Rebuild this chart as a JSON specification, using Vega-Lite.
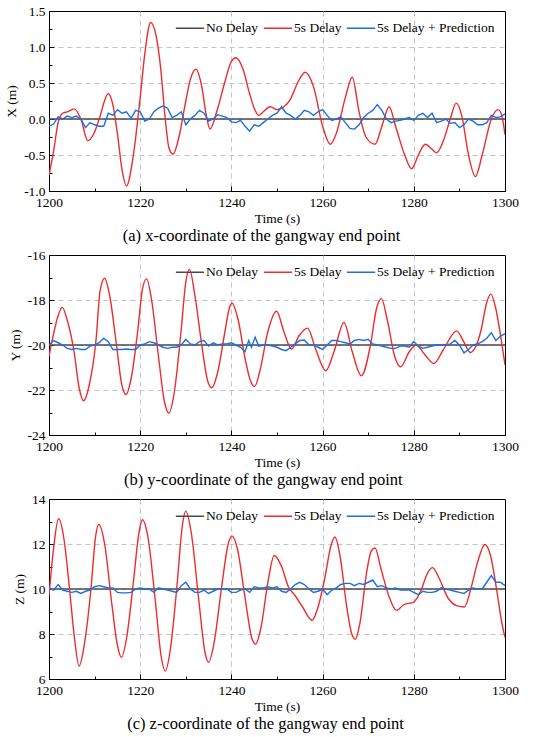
{
  "$schema": "https://vega.github.io/schema/vega-lite/v6.json",
  "padding": {"top": 3, "left": 4, "right": 10, "bottom": 2},
  "spacing": 2,
  "resolve": {"scale": {"color": "independent"}, "legend": {"color": "independent"}},
  "datasets": {
    "p1": [
      {"t": 1200, "v": 0, "s": "No Delay"}, {"t": 1300, "v": 0, "s": "No Delay"},
      {"t": 1200, "v": -0.78, "s": "5s Delay"}, {"t": 1201, "v": -0.45, "s": "5s Delay"}, {"t": 1202, "v": -0.05, "s": "5s Delay"},
      {"t": 1203, "v": 0.08, "s": "5s Delay"}, {"t": 1204, "v": 0.1, "s": "5s Delay"}, {"t": 1205.5, "v": 0.14, "s": "5s Delay"},
      {"t": 1207, "v": 0.0, "s": "5s Delay"}, {"t": 1208.5, "v": -0.3, "s": "5s Delay"}, {"t": 1210, "v": -0.18, "s": "5s Delay"},
      {"t": 1211, "v": 0.0, "s": "5s Delay"}, {"t": 1213, "v": 0.35, "s": "5s Delay"}, {"t": 1214, "v": 0.2, "s": "5s Delay"},
      {"t": 1215, "v": -0.2, "s": "5s Delay"}, {"t": 1216, "v": -0.7, "s": "5s Delay"}, {"t": 1217, "v": -0.93, "s": "5s Delay"},
      {"t": 1218.5, "v": -0.5, "s": "5s Delay"}, {"t": 1220, "v": 0.3, "s": "5s Delay"}, {"t": 1221, "v": 0.9, "s": "5s Delay"},
      {"t": 1222.3, "v": 1.34, "s": "5s Delay"}, {"t": 1223.5, "v": 1.15, "s": "5s Delay"}, {"t": 1224.5, "v": 0.7, "s": "5s Delay"},
      {"t": 1225.5, "v": 0.0, "s": "5s Delay"}, {"t": 1226.3, "v": -0.4, "s": "5s Delay"}, {"t": 1227.2, "v": -0.49, "s": "5s Delay"},
      {"t": 1228.5, "v": -0.25, "s": "5s Delay"}, {"t": 1230, "v": 0.25, "s": "5s Delay"}, {"t": 1231, "v": 0.55, "s": "5s Delay"},
      {"t": 1232.2, "v": 0.69, "s": "5s Delay"}, {"t": 1233.5, "v": 0.45, "s": "5s Delay"}, {"t": 1234.5, "v": 0.05, "s": "5s Delay"},
      {"t": 1235.3, "v": -0.14, "s": "5s Delay"}, {"t": 1237, "v": 0.15, "s": "5s Delay"}, {"t": 1238.5, "v": 0.5, "s": "5s Delay"},
      {"t": 1240, "v": 0.8, "s": "5s Delay"}, {"t": 1241, "v": 0.85, "s": "5s Delay"}, {"t": 1242.5, "v": 0.7, "s": "5s Delay"},
      {"t": 1244, "v": 0.35, "s": "5s Delay"}, {"t": 1245, "v": 0.15, "s": "5s Delay"}, {"t": 1246, "v": 0.05, "s": "5s Delay"},
      {"t": 1247, "v": 0.1, "s": "5s Delay"}, {"t": 1248.5, "v": 0.17, "s": "5s Delay"}, {"t": 1250, "v": 0.13, "s": "5s Delay"},
      {"t": 1251.5, "v": 0.17, "s": "5s Delay"}, {"t": 1253, "v": 0.28, "s": "5s Delay"}, {"t": 1254.5, "v": 0.5, "s": "5s Delay"},
      {"t": 1256.2, "v": 0.65, "s": "5s Delay"}, {"t": 1258, "v": 0.45, "s": "5s Delay"}, {"t": 1260, "v": -0.1, "s": "5s Delay"},
      {"t": 1261.7, "v": -0.35, "s": "5s Delay"}, {"t": 1263, "v": -0.2, "s": "5s Delay"}, {"t": 1265, "v": 0.3, "s": "5s Delay"},
      {"t": 1266.5, "v": 0.58, "s": "5s Delay"}, {"t": 1268, "v": 0.1, "s": "5s Delay"}, {"t": 1269.5, "v": -0.25, "s": "5s Delay"},
      {"t": 1271.5, "v": -0.35, "s": "5s Delay"}, {"t": 1273, "v": -0.1, "s": "5s Delay"}, {"t": 1274.6, "v": 0.17, "s": "5s Delay"},
      {"t": 1276, "v": -0.1, "s": "5s Delay"}, {"t": 1278, "v": -0.5, "s": "5s Delay"}, {"t": 1279.5, "v": -0.69, "s": "5s Delay"},
      {"t": 1281, "v": -0.5, "s": "5s Delay"}, {"t": 1282.5, "v": -0.35, "s": "5s Delay"}, {"t": 1284, "v": -0.42, "s": "5s Delay"},
      {"t": 1285, "v": -0.47, "s": "5s Delay"}, {"t": 1286.5, "v": -0.3, "s": "5s Delay"}, {"t": 1288, "v": 0.0, "s": "5s Delay"},
      {"t": 1289.3, "v": 0.22, "s": "5s Delay"}, {"t": 1290.5, "v": 0.05, "s": "5s Delay"}, {"t": 1292, "v": -0.5, "s": "5s Delay"},
      {"t": 1293.5, "v": -0.8, "s": "5s Delay"}, {"t": 1295, "v": -0.5, "s": "5s Delay"}, {"t": 1297, "v": 0.0, "s": "5s Delay"},
      {"t": 1298.5, "v": 0.13, "s": "5s Delay"}, {"t": 1299.3, "v": 0.05, "s": "5s Delay"}, {"t": 1300, "v": -0.22, "s": "5s Delay"},
      {"t": 1200, "v": -0.1, "s": "5s Delay + Prediction"}, {"t": 1201, "v": -0.07, "s": "5s Delay + Prediction"}, {"t": 1202, "v": 0.03, "s": "5s Delay + Prediction"},
      {"t": 1203, "v": 0.0, "s": "5s Delay + Prediction"}, {"t": 1204, "v": 0.04, "s": "5s Delay + Prediction"}, {"t": 1205, "v": 0.02, "s": "5s Delay + Prediction"},
      {"t": 1206, "v": 0.04, "s": "5s Delay + Prediction"}, {"t": 1207, "v": 0.0, "s": "5s Delay + Prediction"}, {"t": 1208, "v": -0.12, "s": "5s Delay + Prediction"},
      {"t": 1209, "v": -0.05, "s": "5s Delay + Prediction"}, {"t": 1210, "v": -0.08, "s": "5s Delay + Prediction"}, {"t": 1211, "v": -0.1, "s": "5s Delay + Prediction"},
      {"t": 1212, "v": -0.1, "s": "5s Delay + Prediction"}, {"t": 1213, "v": 0.08, "s": "5s Delay + Prediction"}, {"t": 1214, "v": 0.05, "s": "5s Delay + Prediction"},
      {"t": 1215, "v": 0.13, "s": "5s Delay + Prediction"}, {"t": 1216, "v": 0.08, "s": "5s Delay + Prediction"}, {"t": 1217, "v": 0.1, "s": "5s Delay + Prediction"},
      {"t": 1218, "v": 0.01, "s": "5s Delay + Prediction"}, {"t": 1219, "v": 0.12, "s": "5s Delay + Prediction"}, {"t": 1220, "v": 0.1, "s": "5s Delay + Prediction"},
      {"t": 1221, "v": -0.03, "s": "5s Delay + Prediction"}, {"t": 1222, "v": 0.0, "s": "5s Delay + Prediction"}, {"t": 1223, "v": 0.1, "s": "5s Delay + Prediction"},
      {"t": 1224, "v": 0.15, "s": "5s Delay + Prediction"}, {"t": 1225, "v": 0.18, "s": "5s Delay + Prediction"}, {"t": 1226, "v": 0.15, "s": "5s Delay + Prediction"},
      {"t": 1227, "v": 0.02, "s": "5s Delay + Prediction"}, {"t": 1228, "v": 0.05, "s": "5s Delay + Prediction"}, {"t": 1229, "v": 0.1, "s": "5s Delay + Prediction"},
      {"t": 1230, "v": -0.08, "s": "5s Delay + Prediction"}, {"t": 1231, "v": 0.0, "s": "5s Delay + Prediction"}, {"t": 1232, "v": 0.05, "s": "5s Delay + Prediction"},
      {"t": 1233, "v": 0.12, "s": "5s Delay + Prediction"}, {"t": 1234, "v": 0.08, "s": "5s Delay + Prediction"}, {"t": 1235, "v": -0.03, "s": "5s Delay + Prediction"},
      {"t": 1236, "v": 0.0, "s": "5s Delay + Prediction"}, {"t": 1237, "v": 0.06, "s": "5s Delay + Prediction"}, {"t": 1238, "v": 0.04, "s": "5s Delay + Prediction"},
      {"t": 1239, "v": 0.02, "s": "5s Delay + Prediction"}, {"t": 1240, "v": -0.04, "s": "5s Delay + Prediction"}, {"t": 1241, "v": -0.05, "s": "5s Delay + Prediction"},
      {"t": 1242, "v": -0.02, "s": "5s Delay + Prediction"}, {"t": 1243, "v": -0.1, "s": "5s Delay + Prediction"}, {"t": 1244, "v": -0.17, "s": "5s Delay + Prediction"},
      {"t": 1245, "v": -0.08, "s": "5s Delay + Prediction"}, {"t": 1246, "v": -0.1, "s": "5s Delay + Prediction"}, {"t": 1247, "v": -0.05, "s": "5s Delay + Prediction"},
      {"t": 1248, "v": 0.0, "s": "5s Delay + Prediction"}, {"t": 1249, "v": 0.05, "s": "5s Delay + Prediction"}, {"t": 1250, "v": 0.08, "s": "5s Delay + Prediction"},
      {"t": 1251, "v": 0.17, "s": "5s Delay + Prediction"}, {"t": 1252, "v": 0.08, "s": "5s Delay + Prediction"}, {"t": 1253, "v": 0.05, "s": "5s Delay + Prediction"},
      {"t": 1254, "v": 0.0, "s": "5s Delay + Prediction"}, {"t": 1255, "v": 0.05, "s": "5s Delay + Prediction"}, {"t": 1256, "v": 0.12, "s": "5s Delay + Prediction"},
      {"t": 1257, "v": 0.1, "s": "5s Delay + Prediction"}, {"t": 1258, "v": 0.05, "s": "5s Delay + Prediction"}, {"t": 1259, "v": 0.1, "s": "5s Delay + Prediction"},
      {"t": 1260, "v": 0.13, "s": "5s Delay + Prediction"}, {"t": 1261, "v": 0.05, "s": "5s Delay + Prediction"}, {"t": 1262, "v": -0.02, "s": "5s Delay + Prediction"},
      {"t": 1263, "v": 0.0, "s": "5s Delay + Prediction"}, {"t": 1264, "v": 0.03, "s": "5s Delay + Prediction"}, {"t": 1265, "v": -0.05, "s": "5s Delay + Prediction"},
      {"t": 1266, "v": -0.13, "s": "5s Delay + Prediction"}, {"t": 1267, "v": -0.14, "s": "5s Delay + Prediction"}, {"t": 1268, "v": -0.08, "s": "5s Delay + Prediction"},
      {"t": 1269, "v": 0.02, "s": "5s Delay + Prediction"}, {"t": 1270, "v": 0.08, "s": "5s Delay + Prediction"}, {"t": 1271, "v": 0.12, "s": "5s Delay + Prediction"},
      {"t": 1272, "v": 0.2, "s": "5s Delay + Prediction"}, {"t": 1273, "v": 0.12, "s": "5s Delay + Prediction"}, {"t": 1274, "v": 0.0, "s": "5s Delay + Prediction"},
      {"t": 1275, "v": -0.05, "s": "5s Delay + Prediction"}, {"t": 1276, "v": -0.03, "s": "5s Delay + Prediction"}, {"t": 1277, "v": -0.02, "s": "5s Delay + Prediction"},
      {"t": 1278, "v": 0.0, "s": "5s Delay + Prediction"}, {"t": 1279, "v": 0.02, "s": "5s Delay + Prediction"}, {"t": 1280, "v": -0.02, "s": "5s Delay + Prediction"},
      {"t": 1281, "v": 0.05, "s": "5s Delay + Prediction"}, {"t": 1282, "v": 0.08, "s": "5s Delay + Prediction"}, {"t": 1283, "v": 0.02, "s": "5s Delay + Prediction"},
      {"t": 1284, "v": 0.08, "s": "5s Delay + Prediction"}, {"t": 1285, "v": -0.05, "s": "5s Delay + Prediction"}, {"t": 1286, "v": -0.03, "s": "5s Delay + Prediction"},
      {"t": 1287, "v": 0.0, "s": "5s Delay + Prediction"}, {"t": 1288, "v": -0.06, "s": "5s Delay + Prediction"}, {"t": 1289, "v": -0.05, "s": "5s Delay + Prediction"},
      {"t": 1290, "v": -0.12, "s": "5s Delay + Prediction"}, {"t": 1291, "v": -0.08, "s": "5s Delay + Prediction"}, {"t": 1292, "v": 0.0, "s": "5s Delay + Prediction"},
      {"t": 1293, "v": -0.03, "s": "5s Delay + Prediction"}, {"t": 1294, "v": -0.08, "s": "5s Delay + Prediction"}, {"t": 1295, "v": -0.08, "s": "5s Delay + Prediction"},
      {"t": 1296, "v": -0.05, "s": "5s Delay + Prediction"}, {"t": 1297, "v": 0.05, "s": "5s Delay + Prediction"}, {"t": 1298, "v": 0.02, "s": "5s Delay + Prediction"},
      {"t": 1299, "v": 0.03, "s": "5s Delay + Prediction"}, {"t": 1300, "v": 0.07, "s": "5s Delay + Prediction"}
    ],
    "p2": [
      {"t": 1200, "v": -20, "s": "No Delay"}, {"t": 1300, "v": -20, "s": "No Delay"},
      {"t": 1200, "v": -20.5, "s": "5s Delay"}, {"t": 1201, "v": -19.5, "s": "5s Delay"}, {"t": 1202, "v": -18.7, "s": "5s Delay"},
      {"t": 1202.9, "v": -18.33, "s": "5s Delay"}, {"t": 1204, "v": -18.9, "s": "5s Delay"}, {"t": 1205.5, "v": -20.3, "s": "5s Delay"},
      {"t": 1206.6, "v": -21.9, "s": "5s Delay"}, {"t": 1207.6, "v": -22.48, "s": "5s Delay"}, {"t": 1208.8, "v": -21.8, "s": "5s Delay"},
      {"t": 1210.3, "v": -19.8, "s": "5s Delay"}, {"t": 1211.2, "v": -17.6, "s": "5s Delay"}, {"t": 1212.2, "v": -17.03, "s": "5s Delay"},
      {"t": 1213.3, "v": -17.8, "s": "5s Delay"}, {"t": 1214.8, "v": -20.0, "s": "5s Delay"}, {"t": 1215.9, "v": -21.7, "s": "5s Delay"},
      {"t": 1216.9, "v": -22.2, "s": "5s Delay"}, {"t": 1218, "v": -21.5, "s": "5s Delay"}, {"t": 1219.5, "v": -19.3, "s": "5s Delay"},
      {"t": 1220.5, "v": -17.5, "s": "5s Delay"}, {"t": 1221.4, "v": -17.06, "s": "5s Delay"}, {"t": 1222.5, "v": -18.0, "s": "5s Delay"},
      {"t": 1224, "v": -20.5, "s": "5s Delay"}, {"t": 1225.3, "v": -22.5, "s": "5s Delay"}, {"t": 1226.3, "v": -23.03, "s": "5s Delay"},
      {"t": 1227.4, "v": -22.2, "s": "5s Delay"}, {"t": 1229, "v": -19.3, "s": "5s Delay"}, {"t": 1230, "v": -17.2, "s": "5s Delay"},
      {"t": 1230.8, "v": -16.64, "s": "5s Delay"}, {"t": 1232, "v": -17.8, "s": "5s Delay"}, {"t": 1233.5, "v": -20.0, "s": "5s Delay"},
      {"t": 1234.8, "v": -21.6, "s": "5s Delay"}, {"t": 1235.7, "v": -21.9, "s": "5s Delay"}, {"t": 1237, "v": -21.2, "s": "5s Delay"},
      {"t": 1238.5, "v": -19.5, "s": "5s Delay"}, {"t": 1239.5, "v": -18.4, "s": "5s Delay"}, {"t": 1240.1, "v": -18.13, "s": "5s Delay"},
      {"t": 1241.5, "v": -18.9, "s": "5s Delay"}, {"t": 1243, "v": -20.6, "s": "5s Delay"}, {"t": 1244.2, "v": -21.6, "s": "5s Delay"},
      {"t": 1245.1, "v": -21.84, "s": "5s Delay"}, {"t": 1246.3, "v": -21.1, "s": "5s Delay"}, {"t": 1248, "v": -19.4, "s": "5s Delay"},
      {"t": 1249.9, "v": -18.5, "s": "5s Delay"}, {"t": 1251.5, "v": -19.4, "s": "5s Delay"}, {"t": 1253.2, "v": -20.18, "s": "5s Delay"},
      {"t": 1254.8, "v": -19.6, "s": "5s Delay"}, {"t": 1256.7, "v": -19.25, "s": "5s Delay"}, {"t": 1258.5, "v": -20.2, "s": "5s Delay"},
      {"t": 1260.7, "v": -21.15, "s": "5s Delay"}, {"t": 1262.5, "v": -20.3, "s": "5s Delay"}, {"t": 1264.7, "v": -19.0, "s": "5s Delay"},
      {"t": 1266.5, "v": -20.3, "s": "5s Delay"}, {"t": 1268.5, "v": -21.37, "s": "5s Delay"}, {"t": 1270.5, "v": -20.0, "s": "5s Delay"},
      {"t": 1271.8, "v": -18.4, "s": "5s Delay"}, {"t": 1272.9, "v": -17.94, "s": "5s Delay"}, {"t": 1274.2, "v": -18.9, "s": "5s Delay"},
      {"t": 1275.8, "v": -20.5, "s": "5s Delay"}, {"t": 1277.1, "v": -20.97, "s": "5s Delay"}, {"t": 1279, "v": -20.3, "s": "5s Delay"},
      {"t": 1280.5, "v": -20.0, "s": "5s Delay"}, {"t": 1282.3, "v": -20.4, "s": "5s Delay"}, {"t": 1284.4, "v": -20.82, "s": "5s Delay"},
      {"t": 1286.5, "v": -20.2, "s": "5s Delay"}, {"t": 1289.4, "v": -19.37, "s": "5s Delay"}, {"t": 1290.8, "v": -19.8, "s": "5s Delay"},
      {"t": 1292.4, "v": -20.33, "s": "5s Delay"}, {"t": 1293.5, "v": -20.1, "s": "5s Delay"}, {"t": 1294.8, "v": -19.3, "s": "5s Delay"},
      {"t": 1296, "v": -18.1, "s": "5s Delay"}, {"t": 1296.9, "v": -17.74, "s": "5s Delay"}, {"t": 1298, "v": -18.4, "s": "5s Delay"},
      {"t": 1299.2, "v": -19.8, "s": "5s Delay"}, {"t": 1300, "v": -20.88, "s": "5s Delay"},
      {"t": 1200, "v": -20.0, "s": "5s Delay + Prediction"}, {"t": 1201, "v": -19.8, "s": "5s Delay + Prediction"}, {"t": 1202, "v": -19.9, "s": "5s Delay + Prediction"},
      {"t": 1203, "v": -20.0, "s": "5s Delay + Prediction"}, {"t": 1204, "v": -20.15, "s": "5s Delay + Prediction"}, {"t": 1205, "v": -20.2, "s": "5s Delay + Prediction"},
      {"t": 1206, "v": -20.15, "s": "5s Delay + Prediction"}, {"t": 1207, "v": -20.2, "s": "5s Delay + Prediction"}, {"t": 1208, "v": -20.2, "s": "5s Delay + Prediction"},
      {"t": 1209, "v": -20.05, "s": "5s Delay + Prediction"}, {"t": 1210, "v": -20.0, "s": "5s Delay + Prediction"}, {"t": 1211, "v": -19.9, "s": "5s Delay + Prediction"},
      {"t": 1212, "v": -19.7, "s": "5s Delay + Prediction"}, {"t": 1213, "v": -19.85, "s": "5s Delay + Prediction"}, {"t": 1214, "v": -20.2, "s": "5s Delay + Prediction"},
      {"t": 1215, "v": -20.2, "s": "5s Delay + Prediction"}, {"t": 1216, "v": -20.2, "s": "5s Delay + Prediction"}, {"t": 1217, "v": -20.18, "s": "5s Delay + Prediction"},
      {"t": 1218, "v": -20.2, "s": "5s Delay + Prediction"}, {"t": 1219, "v": -20.2, "s": "5s Delay + Prediction"}, {"t": 1220, "v": -20.0, "s": "5s Delay + Prediction"},
      {"t": 1221, "v": -19.95, "s": "5s Delay + Prediction"}, {"t": 1222, "v": -19.85, "s": "5s Delay + Prediction"}, {"t": 1223, "v": -19.9, "s": "5s Delay + Prediction"},
      {"t": 1224, "v": -20.0, "s": "5s Delay + Prediction"}, {"t": 1225, "v": -20.1, "s": "5s Delay + Prediction"}, {"t": 1226, "v": -20.15, "s": "5s Delay + Prediction"},
      {"t": 1227, "v": -20.1, "s": "5s Delay + Prediction"}, {"t": 1228, "v": -20.1, "s": "5s Delay + Prediction"}, {"t": 1229, "v": -20.0, "s": "5s Delay + Prediction"},
      {"t": 1230, "v": -19.75, "s": "5s Delay + Prediction"}, {"t": 1231, "v": -19.95, "s": "5s Delay + Prediction"}, {"t": 1232, "v": -20.0, "s": "5s Delay + Prediction"},
      {"t": 1233, "v": -19.85, "s": "5s Delay + Prediction"}, {"t": 1234, "v": -19.8, "s": "5s Delay + Prediction"}, {"t": 1235, "v": -20.05, "s": "5s Delay + Prediction"},
      {"t": 1236, "v": -19.9, "s": "5s Delay + Prediction"}, {"t": 1237, "v": -20.0, "s": "5s Delay + Prediction"}, {"t": 1238, "v": -19.95, "s": "5s Delay + Prediction"},
      {"t": 1239, "v": -19.95, "s": "5s Delay + Prediction"}, {"t": 1240, "v": -19.9, "s": "5s Delay + Prediction"}, {"t": 1241, "v": -20.0, "s": "5s Delay + Prediction"},
      {"t": 1242, "v": -20.1, "s": "5s Delay + Prediction"}, {"t": 1243, "v": -20.3, "s": "5s Delay + Prediction"}, {"t": 1243.8, "v": -19.8, "s": "5s Delay + Prediction"},
      {"t": 1244.4, "v": -20.1, "s": "5s Delay + Prediction"}, {"t": 1245.2, "v": -19.65, "s": "5s Delay + Prediction"}, {"t": 1246, "v": -20.05, "s": "5s Delay + Prediction"},
      {"t": 1247, "v": -20.0, "s": "5s Delay + Prediction"}, {"t": 1248, "v": -20.0, "s": "5s Delay + Prediction"}, {"t": 1249, "v": -20.05, "s": "5s Delay + Prediction"},
      {"t": 1250, "v": -20.1, "s": "5s Delay + Prediction"}, {"t": 1251, "v": -20.2, "s": "5s Delay + Prediction"}, {"t": 1252, "v": -20.25, "s": "5s Delay + Prediction"},
      {"t": 1253, "v": -20.1, "s": "5s Delay + Prediction"}, {"t": 1254, "v": -19.95, "s": "5s Delay + Prediction"}, {"t": 1255, "v": -19.8, "s": "5s Delay + Prediction"},
      {"t": 1256, "v": -19.78, "s": "5s Delay + Prediction"}, {"t": 1257, "v": -20.0, "s": "5s Delay + Prediction"}, {"t": 1258, "v": -20.0, "s": "5s Delay + Prediction"},
      {"t": 1259, "v": -20.1, "s": "5s Delay + Prediction"}, {"t": 1260, "v": -20.2, "s": "5s Delay + Prediction"}, {"t": 1261, "v": -20.0, "s": "5s Delay + Prediction"},
      {"t": 1262, "v": -19.8, "s": "5s Delay + Prediction"}, {"t": 1263, "v": -19.8, "s": "5s Delay + Prediction"}, {"t": 1264, "v": -19.85, "s": "5s Delay + Prediction"},
      {"t": 1265, "v": -19.9, "s": "5s Delay + Prediction"}, {"t": 1266, "v": -19.95, "s": "5s Delay + Prediction"}, {"t": 1267, "v": -19.8, "s": "5s Delay + Prediction"},
      {"t": 1268, "v": -19.75, "s": "5s Delay + Prediction"}, {"t": 1269, "v": -19.8, "s": "5s Delay + Prediction"}, {"t": 1270, "v": -19.75, "s": "5s Delay + Prediction"},
      {"t": 1271, "v": -19.95, "s": "5s Delay + Prediction"}, {"t": 1272, "v": -20.0, "s": "5s Delay + Prediction"}, {"t": 1273, "v": -20.05, "s": "5s Delay + Prediction"},
      {"t": 1274, "v": -20.1, "s": "5s Delay + Prediction"}, {"t": 1275, "v": -20.15, "s": "5s Delay + Prediction"}, {"t": 1276, "v": -20.15, "s": "5s Delay + Prediction"},
      {"t": 1277, "v": -20.05, "s": "5s Delay + Prediction"}, {"t": 1278, "v": -20.05, "s": "5s Delay + Prediction"}, {"t": 1279, "v": -20.1, "s": "5s Delay + Prediction"},
      {"t": 1280, "v": -19.85, "s": "5s Delay + Prediction"}, {"t": 1281, "v": -20.05, "s": "5s Delay + Prediction"}, {"t": 1282, "v": -20.15, "s": "5s Delay + Prediction"},
      {"t": 1283, "v": -20.1, "s": "5s Delay + Prediction"}, {"t": 1284, "v": -20.05, "s": "5s Delay + Prediction"}, {"t": 1285, "v": -20.0, "s": "5s Delay + Prediction"},
      {"t": 1286, "v": -20.0, "s": "5s Delay + Prediction"}, {"t": 1287, "v": -20.0, "s": "5s Delay + Prediction"}, {"t": 1288, "v": -19.95, "s": "5s Delay + Prediction"},
      {"t": 1289, "v": -19.8, "s": "5s Delay + Prediction"}, {"t": 1290, "v": -20.0, "s": "5s Delay + Prediction"}, {"t": 1291, "v": -20.35, "s": "5s Delay + Prediction"},
      {"t": 1292, "v": -20.2, "s": "5s Delay + Prediction"}, {"t": 1293, "v": -20.0, "s": "5s Delay + Prediction"}, {"t": 1294, "v": -19.95, "s": "5s Delay + Prediction"},
      {"t": 1295, "v": -19.85, "s": "5s Delay + Prediction"}, {"t": 1296, "v": -19.7, "s": "5s Delay + Prediction"}, {"t": 1297, "v": -19.45, "s": "5s Delay + Prediction"},
      {"t": 1298, "v": -19.8, "s": "5s Delay + Prediction"}, {"t": 1299, "v": -19.6, "s": "5s Delay + Prediction"}, {"t": 1300, "v": -19.5, "s": "5s Delay + Prediction"}
    ],
    "p3": [
      {"t": 1200, "v": 10, "s": "No Delay"}, {"t": 1300, "v": 10, "s": "No Delay"},
      {"t": 1200, "v": 9.7, "s": "5s Delay"}, {"t": 1201, "v": 11.8, "s": "5s Delay"}, {"t": 1202.1, "v": 13.12, "s": "5s Delay"},
      {"t": 1203.3, "v": 12.2, "s": "5s Delay"}, {"t": 1204.5, "v": 10.0, "s": "5s Delay"}, {"t": 1205.6, "v": 7.8, "s": "5s Delay"},
      {"t": 1206.6, "v": 6.58, "s": "5s Delay"}, {"t": 1207.8, "v": 7.6, "s": "5s Delay"}, {"t": 1209.2, "v": 10.0, "s": "5s Delay"},
      {"t": 1210.2, "v": 12.3, "s": "5s Delay"}, {"t": 1210.9, "v": 12.88, "s": "5s Delay"}, {"t": 1212.2, "v": 12.0, "s": "5s Delay"},
      {"t": 1213.8, "v": 9.3, "s": "5s Delay"}, {"t": 1215, "v": 7.5, "s": "5s Delay"}, {"t": 1215.9, "v": 6.96, "s": "5s Delay"},
      {"t": 1217, "v": 7.8, "s": "5s Delay"}, {"t": 1218.5, "v": 10.3, "s": "5s Delay"}, {"t": 1219.8, "v": 12.6, "s": "5s Delay"},
      {"t": 1220.5, "v": 13.08, "s": "5s Delay"}, {"t": 1221.7, "v": 12.3, "s": "5s Delay"}, {"t": 1223.3, "v": 9.5, "s": "5s Delay"},
      {"t": 1224.6, "v": 7.0, "s": "5s Delay"}, {"t": 1225.5, "v": 6.35, "s": "5s Delay"}, {"t": 1226.6, "v": 7.3, "s": "5s Delay"},
      {"t": 1228, "v": 10.0, "s": "5s Delay"}, {"t": 1229.3, "v": 12.9, "s": "5s Delay"}, {"t": 1230.0, "v": 13.46, "s": "5s Delay"},
      {"t": 1231.2, "v": 12.5, "s": "5s Delay"}, {"t": 1232.8, "v": 9.6, "s": "5s Delay"}, {"t": 1234.2, "v": 7.2, "s": "5s Delay"},
      {"t": 1235.0, "v": 6.74, "s": "5s Delay"}, {"t": 1236.2, "v": 7.6, "s": "5s Delay"}, {"t": 1237.8, "v": 10.0, "s": "5s Delay"},
      {"t": 1239.3, "v": 12.0, "s": "5s Delay"}, {"t": 1240.1, "v": 12.36, "s": "5s Delay"}, {"t": 1241.3, "v": 11.8, "s": "5s Delay"},
      {"t": 1243, "v": 9.6, "s": "5s Delay"}, {"t": 1244.5, "v": 7.8, "s": "5s Delay"}, {"t": 1245.3, "v": 7.55, "s": "5s Delay"},
      {"t": 1246.5, "v": 8.3, "s": "5s Delay"}, {"t": 1248, "v": 10.3, "s": "5s Delay"}, {"t": 1249.4, "v": 11.49, "s": "5s Delay"},
      {"t": 1251, "v": 11.0, "s": "5s Delay"}, {"t": 1252.5, "v": 10.1, "s": "5s Delay"}, {"t": 1254, "v": 9.7, "s": "5s Delay"},
      {"t": 1255.6, "v": 9.2, "s": "5s Delay"}, {"t": 1257.7, "v": 8.61, "s": "5s Delay"}, {"t": 1259, "v": 9.2, "s": "5s Delay"},
      {"t": 1260.5, "v": 10.5, "s": "5s Delay"}, {"t": 1261.8, "v": 11.9, "s": "5s Delay"}, {"t": 1262.7, "v": 12.31, "s": "5s Delay"},
      {"t": 1263.8, "v": 11.5, "s": "5s Delay"}, {"t": 1265.3, "v": 9.2, "s": "5s Delay"}, {"t": 1266.4, "v": 8.0, "s": "5s Delay"},
      {"t": 1267.2, "v": 7.77, "s": "5s Delay"}, {"t": 1268.2, "v": 8.5, "s": "5s Delay"}, {"t": 1269.7, "v": 10.8, "s": "5s Delay"},
      {"t": 1270.7, "v": 11.7, "s": "5s Delay"}, {"t": 1271.5, "v": 11.82, "s": "5s Delay"}, {"t": 1272.8, "v": 10.9, "s": "5s Delay"},
      {"t": 1274.5, "v": 9.7, "s": "5s Delay"}, {"t": 1276.2, "v": 9.05, "s": "5s Delay"}, {"t": 1277.8, "v": 9.3, "s": "5s Delay"},
      {"t": 1280, "v": 9.42, "s": "5s Delay"}, {"t": 1281.5, "v": 9.9, "s": "5s Delay"}, {"t": 1283, "v": 10.7, "s": "5s Delay"},
      {"t": 1284.1, "v": 10.95, "s": "5s Delay"}, {"t": 1285.5, "v": 10.5, "s": "5s Delay"}, {"t": 1287.5, "v": 9.6, "s": "5s Delay"},
      {"t": 1289.5, "v": 9.25, "s": "5s Delay"}, {"t": 1291.1, "v": 9.2, "s": "5s Delay"}, {"t": 1292.5, "v": 10.0, "s": "5s Delay"},
      {"t": 1294, "v": 11.2, "s": "5s Delay"}, {"t": 1295.6, "v": 11.98, "s": "5s Delay"}, {"t": 1296.8, "v": 11.5, "s": "5s Delay"},
      {"t": 1298.3, "v": 9.8, "s": "5s Delay"}, {"t": 1299.3, "v": 8.5, "s": "5s Delay"}, {"t": 1300, "v": 7.85, "s": "5s Delay"},
      {"t": 1200, "v": 10.05, "s": "5s Delay + Prediction"}, {"t": 1201, "v": 9.95, "s": "5s Delay + Prediction"}, {"t": 1202, "v": 10.2, "s": "5s Delay + Prediction"},
      {"t": 1203, "v": 9.95, "s": "5s Delay + Prediction"}, {"t": 1204, "v": 9.9, "s": "5s Delay + Prediction"}, {"t": 1205, "v": 9.85, "s": "5s Delay + Prediction"},
      {"t": 1206, "v": 9.9, "s": "5s Delay + Prediction"}, {"t": 1207, "v": 9.8, "s": "5s Delay + Prediction"}, {"t": 1208, "v": 9.9, "s": "5s Delay + Prediction"},
      {"t": 1209, "v": 9.95, "s": "5s Delay + Prediction"}, {"t": 1210, "v": 10.1, "s": "5s Delay + Prediction"}, {"t": 1211, "v": 10.15, "s": "5s Delay + Prediction"},
      {"t": 1212, "v": 10.1, "s": "5s Delay + Prediction"}, {"t": 1213, "v": 10.05, "s": "5s Delay + Prediction"}, {"t": 1214, "v": 10.05, "s": "5s Delay + Prediction"},
      {"t": 1215, "v": 9.85, "s": "5s Delay + Prediction"}, {"t": 1216, "v": 9.83, "s": "5s Delay + Prediction"}, {"t": 1217, "v": 9.83, "s": "5s Delay + Prediction"},
      {"t": 1218, "v": 9.85, "s": "5s Delay + Prediction"}, {"t": 1219, "v": 10.0, "s": "5s Delay + Prediction"}, {"t": 1220, "v": 10.05, "s": "5s Delay + Prediction"},
      {"t": 1221, "v": 10.0, "s": "5s Delay + Prediction"}, {"t": 1222, "v": 10.0, "s": "5s Delay + Prediction"}, {"t": 1223, "v": 9.85, "s": "5s Delay + Prediction"},
      {"t": 1224, "v": 10.05, "s": "5s Delay + Prediction"}, {"t": 1225, "v": 10.0, "s": "5s Delay + Prediction"}, {"t": 1226, "v": 9.95, "s": "5s Delay + Prediction"},
      {"t": 1227, "v": 9.9, "s": "5s Delay + Prediction"}, {"t": 1228, "v": 9.85, "s": "5s Delay + Prediction"}, {"t": 1229, "v": 10.15, "s": "5s Delay + Prediction"},
      {"t": 1230, "v": 10.3, "s": "5s Delay + Prediction"}, {"t": 1231, "v": 10.0, "s": "5s Delay + Prediction"}, {"t": 1232, "v": 9.85, "s": "5s Delay + Prediction"},
      {"t": 1233, "v": 9.85, "s": "5s Delay + Prediction"}, {"t": 1234, "v": 9.95, "s": "5s Delay + Prediction"}, {"t": 1235, "v": 9.8, "s": "5s Delay + Prediction"},
      {"t": 1236, "v": 9.9, "s": "5s Delay + Prediction"}, {"t": 1237, "v": 10.0, "s": "5s Delay + Prediction"}, {"t": 1238, "v": 10.0, "s": "5s Delay + Prediction"},
      {"t": 1239, "v": 10.0, "s": "5s Delay + Prediction"}, {"t": 1240, "v": 9.85, "s": "5s Delay + Prediction"}, {"t": 1241, "v": 9.85, "s": "5s Delay + Prediction"},
      {"t": 1242, "v": 9.95, "s": "5s Delay + Prediction"}, {"t": 1243, "v": 10.0, "s": "5s Delay + Prediction"}, {"t": 1244, "v": 9.85, "s": "5s Delay + Prediction"},
      {"t": 1245, "v": 10.1, "s": "5s Delay + Prediction"}, {"t": 1246, "v": 10.05, "s": "5s Delay + Prediction"}, {"t": 1247, "v": 10.05, "s": "5s Delay + Prediction"},
      {"t": 1248, "v": 10.1, "s": "5s Delay + Prediction"}, {"t": 1249, "v": 10.05, "s": "5s Delay + Prediction"}, {"t": 1250, "v": 10.1, "s": "5s Delay + Prediction"},
      {"t": 1251, "v": 9.9, "s": "5s Delay + Prediction"}, {"t": 1252, "v": 9.85, "s": "5s Delay + Prediction"}, {"t": 1253, "v": 10.0, "s": "5s Delay + Prediction"},
      {"t": 1254, "v": 10.2, "s": "5s Delay + Prediction"}, {"t": 1255, "v": 10.3, "s": "5s Delay + Prediction"}, {"t": 1256, "v": 10.2, "s": "5s Delay + Prediction"},
      {"t": 1257, "v": 10.0, "s": "5s Delay + Prediction"}, {"t": 1258, "v": 9.85, "s": "5s Delay + Prediction"}, {"t": 1259, "v": 9.9, "s": "5s Delay + Prediction"},
      {"t": 1260, "v": 10.0, "s": "5s Delay + Prediction"}, {"t": 1261, "v": 9.75, "s": "5s Delay + Prediction"}, {"t": 1262, "v": 9.95, "s": "5s Delay + Prediction"},
      {"t": 1263, "v": 10.05, "s": "5s Delay + Prediction"}, {"t": 1264, "v": 10.2, "s": "5s Delay + Prediction"}, {"t": 1265, "v": 10.25, "s": "5s Delay + Prediction"},
      {"t": 1266, "v": 10.25, "s": "5s Delay + Prediction"}, {"t": 1267, "v": 10.15, "s": "5s Delay + Prediction"}, {"t": 1268, "v": 10.25, "s": "5s Delay + Prediction"},
      {"t": 1269, "v": 10.2, "s": "5s Delay + Prediction"}, {"t": 1270, "v": 10.3, "s": "5s Delay + Prediction"}, {"t": 1271, "v": 10.4, "s": "5s Delay + Prediction"},
      {"t": 1272, "v": 10.1, "s": "5s Delay + Prediction"}, {"t": 1273, "v": 10.15, "s": "5s Delay + Prediction"}, {"t": 1274, "v": 10.05, "s": "5s Delay + Prediction"},
      {"t": 1275, "v": 10.0, "s": "5s Delay + Prediction"}, {"t": 1276, "v": 10.05, "s": "5s Delay + Prediction"}, {"t": 1277, "v": 9.95, "s": "5s Delay + Prediction"},
      {"t": 1278, "v": 9.95, "s": "5s Delay + Prediction"}, {"t": 1279, "v": 9.95, "s": "5s Delay + Prediction"}, {"t": 1280, "v": 9.85, "s": "5s Delay + Prediction"},
      {"t": 1281, "v": 9.75, "s": "5s Delay + Prediction"}, {"t": 1282, "v": 9.9, "s": "5s Delay + Prediction"}, {"t": 1283, "v": 9.85, "s": "5s Delay + Prediction"},
      {"t": 1284, "v": 9.85, "s": "5s Delay + Prediction"}, {"t": 1285, "v": 9.9, "s": "5s Delay + Prediction"}, {"t": 1286, "v": 10.05, "s": "5s Delay + Prediction"},
      {"t": 1287, "v": 10.0, "s": "5s Delay + Prediction"}, {"t": 1288, "v": 9.95, "s": "5s Delay + Prediction"}, {"t": 1289, "v": 9.9, "s": "5s Delay + Prediction"},
      {"t": 1290, "v": 9.85, "s": "5s Delay + Prediction"}, {"t": 1291, "v": 9.8, "s": "5s Delay + Prediction"}, {"t": 1292, "v": 9.95, "s": "5s Delay + Prediction"},
      {"t": 1293, "v": 10.05, "s": "5s Delay + Prediction"}, {"t": 1294, "v": 10.0, "s": "5s Delay + Prediction"}, {"t": 1295, "v": 10.0, "s": "5s Delay + Prediction"},
      {"t": 1296, "v": 10.3, "s": "5s Delay + Prediction"}, {"t": 1297, "v": 10.6, "s": "5s Delay + Prediction"}, {"t": 1298, "v": 10.3, "s": "5s Delay + Prediction"},
      {"t": 1299, "v": 10.3, "s": "5s Delay + Prediction"}, {"t": 1300, "v": 10.15, "s": "5s Delay + Prediction"}
    ]
  },
  "vconcat": [
    {
      "width": 456, "height": 180,
      "data": {"name": "p1"},
      "title": "(a) x-coordinate of the gangway end point",
      "encoding": {
        "x": {"field": "t", "type": "quantitative", "scale": {"domain": [1200, 1300], "nice": false},
          "axis": {"title": "Time (s)", "format": "d", "values": [1200, 1210, 1220, 1230, 1240, 1250, 1260, 1270, 1280, 1290, 1300],
            "labelExpr": "datum.value % 20 === 0 ? format(datum.value, 'd') : ''",
            "tickSize": {"condition": {"test": "datum.value % 20 === 0", "value": -5}, "value": -3},
            "gridOpacity": {"condition": {"test": "datum.value % 20 === 0 && datum.value > 1200 && datum.value < 1300", "value": 1}, "value": 0}}},
        "y": {"field": "v", "type": "quantitative", "scale": {"domain": [-1, 1.5], "nice": false},
          "axis": {"title": "X (m)", "values": [-1, -0.75, -0.5, -0.25, 0, 0.25, 0.5, 0.75, 1, 1.25, 1.5],
            "labelExpr": "abs(datum.value * 2 - round(datum.value * 2)) < 0.001 ? replace(format(datum.value, '.1f'), '\u2212', '-') : ''",
            "tickSize": {"condition": {"test": "abs(datum.value * 2 - round(datum.value * 2)) < 0.001", "value": -5}, "value": -3},
            "gridOpacity": {"condition": {"test": "abs(datum.value * 2 - round(datum.value * 2)) < 0.001 && datum.value > -1 && datum.value < 1.5", "value": 1}, "value": 0}}},
        "color": {"field": "s", "type": "nominal",
          "scale": {"domain": ["No Delay", "5s Delay", "5s Delay + Prediction"], "range": ["#4a4a4a", "#ef2b2d", "#1c6fe3"]}}
      },
      "layer": [
        {"transform": [{"filter": "datum.s !== '5s Delay + Prediction'"}], "mark": {"type": "line", "interpolate": "monotone", "strokeWidth": 1.4, "clip": true}},
        {"transform": [{"filter": "datum.s === '5s Delay + Prediction'"}], "mark": {"type": "line", "strokeWidth": 1.4, "clip": true}}
      ]
    },
    {
      "width": 456, "height": 180,
      "data": {"name": "p2"},
      "title": "(b) y-coordinate of the gangway end point",
      "encoding": {
        "x": {"field": "t", "type": "quantitative", "scale": {"domain": [1200, 1300], "nice": false},
          "axis": {"title": "Time (s)", "format": "d", "values": [1200, 1210, 1220, 1230, 1240, 1250, 1260, 1270, 1280, 1290, 1300],
            "labelExpr": "datum.value % 20 === 0 ? format(datum.value, 'd') : ''",
            "tickSize": {"condition": {"test": "datum.value % 20 === 0", "value": -5}, "value": -3},
            "gridOpacity": {"condition": {"test": "datum.value % 20 === 0 && datum.value > 1200 && datum.value < 1300", "value": 1}, "value": 0}}},
        "y": {"field": "v", "type": "quantitative", "scale": {"domain": [-24, -16], "nice": false},
          "axis": {"title": "Y (m)", "values": [-24, -23, -22, -21, -20, -19, -18, -17, -16],
            "labelExpr": "datum.value % 2 === 0 ? replace(format(datum.value, 'd'), '\u2212', '-') : ''",
            "tickSize": {"condition": {"test": "datum.value % 2 === 0", "value": -5}, "value": -3},
            "gridOpacity": {"condition": {"test": "datum.value % 2 === 0 && datum.value > -24 && datum.value < -16", "value": 1}, "value": 0}}},
        "color": {"field": "s", "type": "nominal",
          "scale": {"domain": ["No Delay", "5s Delay", "5s Delay + Prediction"], "range": ["#4a4a4a", "#ef2b2d", "#1c6fe3"]}}
      },
      "layer": [
        {"transform": [{"filter": "datum.s !== '5s Delay + Prediction'"}], "mark": {"type": "line", "interpolate": "monotone", "strokeWidth": 1.4, "clip": true}},
        {"transform": [{"filter": "datum.s === '5s Delay + Prediction'"}], "mark": {"type": "line", "strokeWidth": 1.4, "clip": true}}
      ]
    },
    {
      "width": 456, "height": 180,
      "data": {"name": "p3"},
      "title": "(c) z-coordinate of the gangway end point",
      "encoding": {
        "x": {"field": "t", "type": "quantitative", "scale": {"domain": [1200, 1300], "nice": false},
          "axis": {"title": "Time (s)", "format": "d", "values": [1200, 1210, 1220, 1230, 1240, 1250, 1260, 1270, 1280, 1290, 1300],
            "labelExpr": "datum.value % 20 === 0 ? format(datum.value, 'd') : ''",
            "tickSize": {"condition": {"test": "datum.value % 20 === 0", "value": -5}, "value": -3},
            "gridOpacity": {"condition": {"test": "datum.value % 20 === 0 && datum.value > 1200 && datum.value < 1300", "value": 1}, "value": 0}}},
        "y": {"field": "v", "type": "quantitative", "scale": {"domain": [6, 14], "nice": false},
          "axis": {"title": "Z (m)", "values": [6, 7, 8, 9, 10, 11, 12, 13, 14],
            "labelExpr": "datum.value % 2 === 0 ? format(datum.value, 'd') : ''",
            "tickSize": {"condition": {"test": "datum.value % 2 === 0", "value": -5}, "value": -3},
            "gridOpacity": {"condition": {"test": "datum.value % 2 === 0 && datum.value > 6 && datum.value < 14", "value": 1}, "value": 0}}},
        "color": {"field": "s", "type": "nominal",
          "scale": {"domain": ["No Delay", "5s Delay", "5s Delay + Prediction"], "range": ["#4a4a4a", "#ef2b2d", "#1c6fe3"]}}
      },
      "layer": [
        {"transform": [{"filter": "datum.s !== '5s Delay + Prediction'"}], "mark": {"type": "line", "interpolate": "monotone", "strokeWidth": 1.4, "clip": true}},
        {"transform": [{"filter": "datum.s === '5s Delay + Prediction'"}], "mark": {"type": "line", "strokeWidth": 1.4, "clip": true}}
      ]
    }
  ],
  "config": {
    "font": "Liberation Serif",
    "view": {"stroke": "#000000", "strokeWidth": 1},
    "style": {
      "guide-label": {"font": "Liberation Serif", "fontSize": 13.5, "fill": "#000000"},
      "guide-title": {"font": "Liberation Serif", "fontSize": 13.5, "fontWeight": "normal", "fill": "#000000"}
    },
    "axis": {
      "labelFont": "Liberation Serif", "labelFontSize": 13.5, "labelColor": "#000000",
      "titleFont": "Liberation Serif", "titleFontSize": 13.5, "titleFontWeight": "normal", "titleColor": "#000000",
      "domainColor": "#000000", "tickColor": "#000000", "tickWidth": 1,
      "gridColor": "#c4c4c4", "gridDash": [5, 4], "gridWidth": 1,
      "labelFlush": false, "labelOverlap": false, "labelPadding": 9
    },
    "axisX": {"titlePadding": 1},
    "axisY": {"titlePadding": 5},
    "legend": {
      "orient": "none", "legendX": 126, "legendY": 2, "direction": "horizontal", "title": null, "padding": 0,
      "symbolType": "stroke", "symbolSize": 800, "symbolStrokeWidth": 1.5,
      "labelFont": "Liberation Serif", "labelFontSize": 13.5, "labelColor": "#000000", "labelLimit": 300,
      "labelOffset": 1, "columnPadding": 1
    },
    "title": {
      "font": "Liberation Serif", "fontSize": 16.5, "fontWeight": "normal", "color": "#000000",
      "orient": "bottom", "anchor": "middle", "frame": "bounds", "offset": 3
    }
  }
}
